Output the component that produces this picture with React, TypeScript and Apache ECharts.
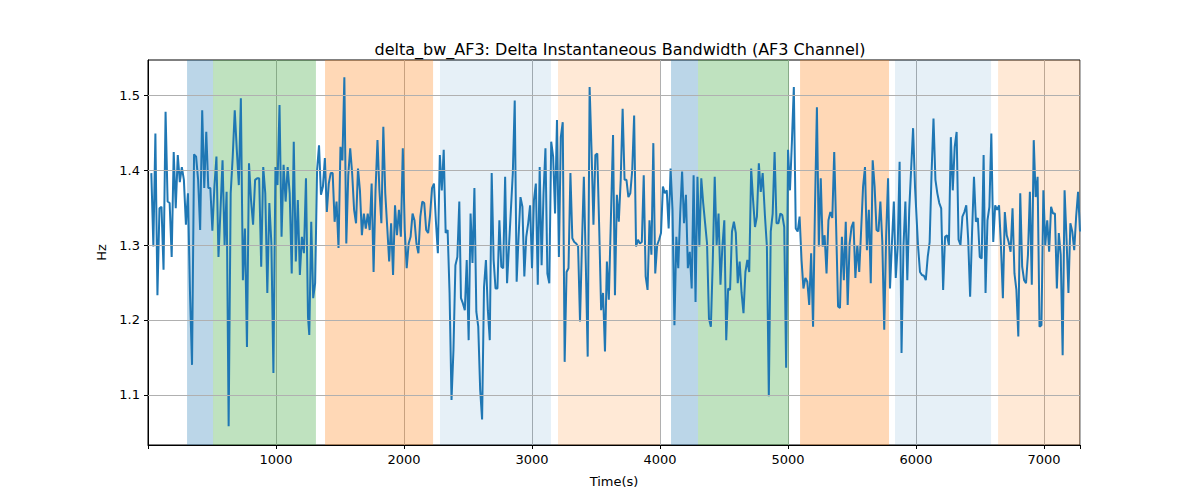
import { useEffect, useRef } from 'react';
import * as echarts from 'echarts';

const segRanges: [number, number][] = [
  [26, 1250],
  [1260, 2432],
  [2445, 3600],
  [3633, 4802],
  [4820, 5992],
  [6016, 7281],
];

const seg1 = [1.396,1.298,1.449,1.233,1.349,1.351,1.267,1.478,1.358,1.356,1.284,1.424,1.349,1.420,1.384,1.404,1.387,1.327,1.369,1.236,1.140,1.421,1.418,1.387,1.320,1.480,1.376,1.451,1.376,1.376,1.319,1.378,1.418,1.284,1.347,1.413,1.300,1.371,1.058,1.369,1.418,1.480,1.427,1.380,1.496,1.253,1.322,1.164,1.409,1.360,1.327,1.387,1.389,1.389,1.271,1.404,1.369,1.236,1.356,1.302,1.129,1.404,1.380,1.487,1.311,1.407,1.358,1.404,1.369,1.262,1.438,1.278,1.360,1.260,1.311,1.289,1.389,1.204];
const seg2 = [1.180,1.331,1.229,1.249,1.400,1.433,1.367,1.378,1.416,1.344,1.382,1.396,1.396,1.331,1.358,1.296,1.431,1.413,1.524,1.302,1.393,1.429,1.396,1.347,1.329,1.402,1.373,1.313,1.342,1.322,1.342,1.320,1.382,1.264,1.373,1.440,1.373,1.329,1.458,1.369,1.324,1.278,1.329,1.260,1.353,1.313,1.347,1.311,1.429,1.320,1.269,1.302,1.311,1.342,1.333,1.302,1.289,1.338,1.358,1.356,1.320,1.316,1.340,1.376,1.382,1.331,1.289,1.420,1.373,1.427,1.316,1.320,1.236,1.093,1.160,1.273,1.284,1.358];
const seg3 = [1.229,1.222,1.213,1.280,1.173,1.342,1.276,1.376,1.211,1.191,1.107,1.067,1.244,1.280,1.213,1.173,1.396,1.280,1.242,1.242,1.333,1.271,1.269,1.391,1.249,1.298,1.347,1.396,1.493,1.251,1.311,1.364,1.351,1.258,1.311,1.329,1.353,1.269,1.360,1.382,1.247,1.404,1.273,1.369,1.429,1.262,1.249,1.438,1.418,1.342,1.467,1.284,1.444,1.464,1.144,1.264,1.269,1.396,1.309,1.304,1.302,1.298,1.198,1.300,1.391,1.276,1.151,1.511,1.427,1.327,1.420,1.422,1.322,1.213,1.236,1.158,1.278,1.227];
const seg4 = [1.447,1.233,1.367,1.331,1.387,1.482,1.387,1.387,1.364,1.369,1.400,1.473,1.298,1.307,1.302,1.304,1.393,1.258,1.240,1.333,1.287,1.436,1.262,1.300,1.307,1.316,1.378,1.369,1.373,1.322,1.402,1.347,1.193,1.311,1.269,1.342,1.398,1.329,1.367,1.269,1.291,1.242,1.393,1.224,1.391,1.298,1.389,1.356,1.329,1.302,1.202,1.191,1.280,1.391,1.300,1.342,1.247,1.298,1.333,1.173,1.242,1.240,1.318,1.331,1.316,1.249,1.278,1.236,1.209,1.264,1.280,1.264,1.402,1.360,1.324,1.338,1.409,1.371,1.396];
const seg5 = [1.338,1.298,1.098,1.318,1.342,1.424,1.329,1.329,1.342,1.340,1.324,1.136,1.427,1.373,1.438,1.511,1.322,1.318,1.338,1.280,1.242,1.256,1.251,1.220,1.289,1.191,1.351,1.484,1.298,1.389,1.298,1.313,1.262,1.333,1.344,1.336,1.424,1.324,1.218,1.216,1.311,1.253,1.331,1.220,1.302,1.324,1.331,1.256,1.300,1.264,1.320,1.378,1.404,1.293,1.347,1.249,1.413,1.378,1.320,1.318,1.358,1.304,1.187,1.313,1.389,1.242,1.302,1.358,1.256,1.298,1.411,1.156,1.298,1.358,1.253,1.347,1.402,1.456,1.378];
const seg6 = [1.298,1.264,1.260,1.259,1.253,1.284,1.304,1.396,1.469,1.387,1.369,1.356,1.349,1.240,1.311,1.313,1.300,1.444,1.373,1.431,1.451,1.307,1.300,1.338,1.344,1.353,1.307,1.231,1.316,1.391,1.331,1.336,1.284,1.282,1.420,1.236,1.333,1.351,1.449,1.304,1.353,1.347,1.353,1.298,1.229,1.344,1.313,1.304,1.291,1.349,1.262,1.240,1.178,1.369,1.271,1.253,1.249,1.287,1.371,1.247,1.440,1.364,1.391,1.191,1.193,1.373,1.300,1.333,1.291,1.351,1.342,1.342,1.242,1.316,1.287,1.153,1.373,1.309,1.236,1.329,1.318,1.293,1.338,1.371,1.318];

const segments = [seg1, seg2, seg3, seg4, seg5, seg6];

const yTicks = [1.1, 1.2, 1.3, 1.4, 1.5];

// shaded phases: [start, end, colour]
const bands: [number, number, string][] = [
  [305, 508, 'rgba(31,119,180,0.3)'],
  [508, 1312, 'rgba(44,160,44,0.3)'],
  [1383, 2227, 'rgba(255,127,14,0.3)'],
  [2281, 3148, 'rgba(31,119,180,0.11)'],
  [3203, 4000, 'rgba(255,127,14,0.17)'],
  [4086, 4297, 'rgba(31,119,180,0.3)'],
  [4297, 5008, 'rgba(44,160,44,0.3)'],
  [5094, 5789, 'rgba(255,127,14,0.3)'],
  [5836, 6586, 'rgba(31,119,180,0.11)'],
  [6641, 7281, 'rgba(255,127,14,0.17)'],
];

export default function App() {
  const ref = useRef<HTMLDivElement>(null);

  useEffect(() => {
    document.body.style.margin = '0';
    if (!ref.current) return;
    const chart = echarts.init(ref.current, undefined, { renderer: 'svg' });

    const points: [number, number][] = [];
    segments.forEach((vals, si) => {
      const [a, b] = segRanges[si];
      vals.forEach((v, i) => {
        points.push([a + ((b - a) * i) / Math.max(1, vals.length - 1), v]);
      });
    });

    const font = 'DejaVu Sans';
    chart.setOption({
      animation: false,
      textStyle: { fontFamily: font },
      title: {
        text: 'delta_bw_AF3: Delta Instantaneous Bandwidth (AF3 Channel)',
        left: 615,
        textAlign: 'center',
        top: 36,
        textStyle: { fontFamily: font, fontSize: 16, fontWeight: 'normal', color: '#000' },
      },
      grid: {
        left: 148,
        right: 120,
        top: 60,
        bottom: 55,
        show: true,
        borderColor: '#000',
        borderWidth: 1,
      },
      xAxis: {
        type: 'value',
        min: 0,
        max: 7281,
        interval: 1000,
        name: 'Time(s)',
        nameLocation: 'middle',
        nameGap: 30,
        nameTextStyle: { fontSize: 13, color: '#000' },
        axisLine: { lineStyle: { color: '#000' } },
        axisTick: { lineStyle: { color: '#000' }, length: 4 },
        axisLabel: {
          color: '#000',
          fontSize: 13,
          formatter: (v: number) => (v > 0 && v % 1000 === 0 ? String(v) : ''),
        },
        splitLine: { lineStyle: { color: '#b0b0b0', width: 1 } },
      },
      yAxis: {
        type: 'value',
        min: 1.033,
        max: 1.547,
        name: 'Hz',
        nameLocation: 'middle',
        nameGap: 38,
        nameTextStyle: { fontSize: 13, color: '#000' },
        axisLine: { show: true, lineStyle: { color: '#000' } },
        axisTick: { show: true, lineStyle: { color: '#000' }, length: 4, customValues: yTicks },
        axisLabel: {
          color: '#000',
          fontSize: 13,
          customValues: yTicks,
          formatter: (v: number) => v.toFixed(1),
        },
        splitLine: { show: false },
      },
      series: [
        {
          type: 'line',
          data: points,
          showSymbol: false,
          lineStyle: { color: '#1f77b4', width: 2 },
          z: 3,
          markArea: {
            silent: true,
            data: bands.map(([s, e, c]) => [
              { xAxis: s, itemStyle: { color: c } },
              { xAxis: e },
            ]),
          },
          markLine: {
            silent: true,
            symbol: 'none',
            label: { show: false },
            lineStyle: { color: '#b0b0b0', width: 1, type: 'solid' },
            data: yTicks.map((t) => ({ yAxis: t })),
          },
        },
      ],
    });

    return () => chart.dispose();
  }, []);

  return <div ref={ref} style={{ width: 1200, height: 500 }} />;
}
